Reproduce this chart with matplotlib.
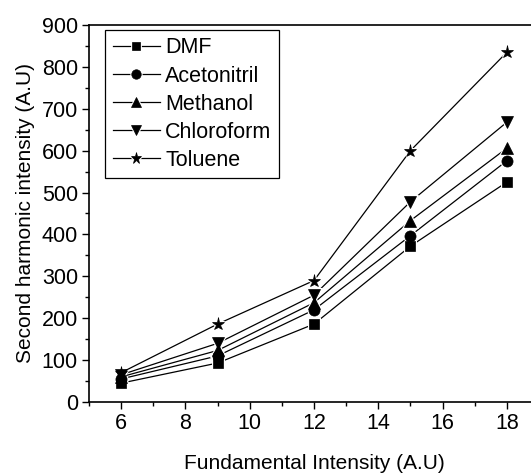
import numpy as np
import matplotlib
matplotlib.use("Agg")
import matplotlib.pyplot as plt
from matplotlib.ticker import MultipleLocator
from matplotlib.lines import Line2D
from matplotlib.legend_handler import HandlerTuple

plt.rcParams['font.family'] = ['Liberation Sans', 'DejaVu Sans']

# fundamental intensity (x) and SHG intensity per solvent
fundamental = [6, 9, 12, 15, 18]
dmf = [45, 93, 186, 372, 525]
acetonitril = [55, 110, 220, 397, 576]
methanol = [60, 123, 237, 433, 606]
chloroform = [65, 140, 255, 478, 668]
toluene = [70, 186, 290, 600, 835]

labels = ['DMF', 'Acetonitril', 'Methanol', 'Chloroform', 'Toluene']
markers = ['s', 'o', '^', 'v', '*']
sizes = [7, 8, 8, 8, 9.5]
series = [dmf, acetonitril, methanol, chloroform, toluene]

fig = plt.figure(figsize=(5.31, 4.75), dpi=100)
# right spine sits just outside the picture, like the cropped original
ax = fig.add_axes([0.1676, 0.1537, 0.8475, 0.7937])

# lines with a white halo round each marker (gives the gap look)
for ys, m, ms in zip(series, markers, sizes):
    ax.plot(fundamental, ys, color='black', lw=0.9, marker=m, ms=ms,
            mfc='black', mec='white', mew=2.2, zorder=2)
# solid markers again on top so overlapping ones merge
for ys, m, ms in zip(series, markers, sizes):
    ax.plot(fundamental, ys, ls='none', marker=m, ms=ms,
            mfc='black', mec='black', mew=0.5, zorder=3)

ax.set_xlim(5, 19)
ax.set_ylim(0, 900)
ax.set_xticks([6, 8, 10, 12, 14, 16, 18])
ax.xaxis.set_minor_locator(MultipleLocator(1))
ax.yaxis.set_major_locator(MultipleLocator(100))
ax.yaxis.set_minor_locator(MultipleLocator(50))
ax.tick_params(which='major', direction='out', length=5, width=1, labelsize=15.5, pad=3)
ax.tick_params(which='minor', direction='out', length=3, width=1)
ax.tick_params(top=False, right=False)
for sp in ax.spines.values():
    sp.set_linewidth(1.2)

ax.set_xlabel('Fundamental Intensity (A.U)', fontsize=15, labelpad=14)
ax.set_ylabel('Second harmonic intensity (A.U)', fontsize=15, labelpad=5)

# legend handles: line with a white gap, then the solid marker on top
handles = []
for m, ms in zip(markers, sizes):
    halo = Line2D([], [], color='black', lw=0.9, marker=m, ms=ms * 0.85,
                  mfc='black', mec='white', mew=2.0)
    dot = Line2D([], [], ls='none', marker=m, ms=ms * 0.85,
                 mfc='black', mec='black', mew=0.5)
    handles.append((halo, dot))
leg = ax.legend(handles, labels, loc='upper left', bbox_to_anchor=(0.0356, 0.987),
                handler_map={tuple: HandlerTuple(ndivide=1)},
                fontsize=15.5, frameon=True, fancybox=False, edgecolor='black',
                framealpha=1, handlelength=2.2, handletextpad=0.25,
                labelspacing=0.33, borderpad=0.35, borderaxespad=0)
leg.get_frame().set_linewidth(0.9)

fig.savefig('out.png', dpi=100)
